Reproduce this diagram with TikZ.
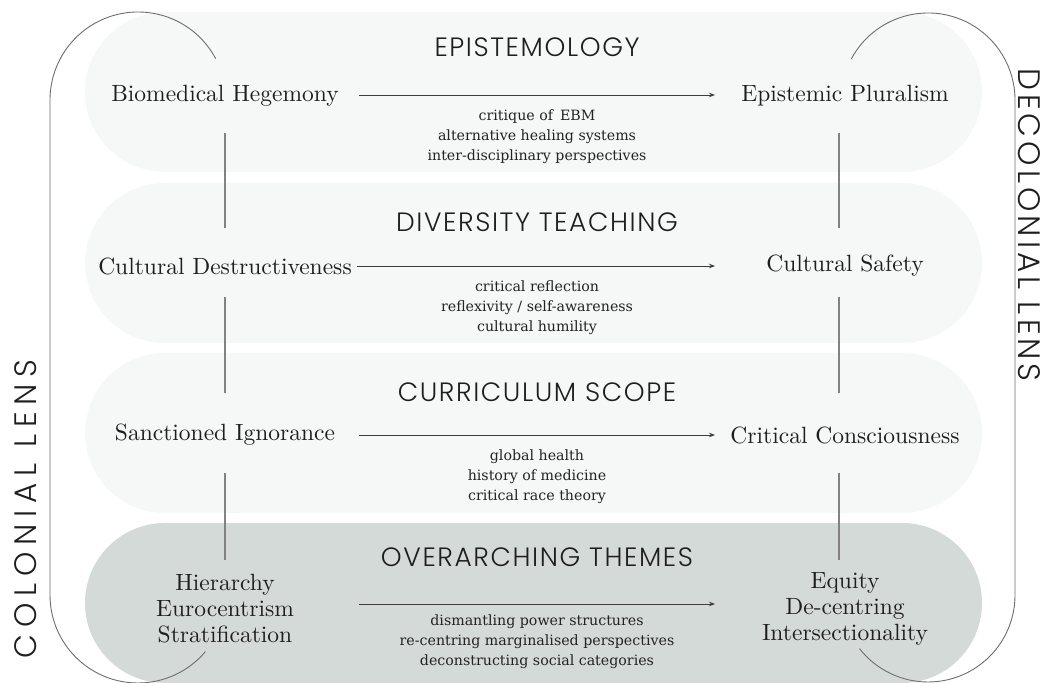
\documentclass[tikz,border=0pt]{standalone}
\usepackage{fontspec}
\setmainfont{Latin Modern Roman}
\newfontfamily\conceptfont{lmroman10-regular}[Extension=.otf]
\newfontfamily\titlefont{Poppins Light}[LetterSpace=6]
\newfontfamily\colfont{Poppins Light}[LetterSpace=22]
\newfontfamily\decolfont{Poppins Light}[LetterSpace=13]
\newfontfamily\notefont{DejaVu Serif}
\usetikzlibrary{arrows.meta}
\definecolor{bandlight}{RGB}{246,247,247}
\definecolor{banddark}{RGB}{212,218,215}
\definecolor{inkdark}{RGB}{30,30,30}
\definecolor{notegray}{RGB}{35,35,35}
\definecolor{arrowgray}{RGB}{60,60,60}
\definecolor{linkgray}{RGB}{130,130,130}
\definecolor{lensgray}{RGB}{110,110,110}
\begin{document}
\begin{tikzpicture}[x=1pt,y=1pt,
  concept/.style={font=\conceptfont\fontsize{23.5}{26}\selectfont, text=inkdark, align=center, inner sep=0pt},
  theme/.style={font=\titlefont\fontsize{26.5}{28}\selectfont, text=inkdark, inner sep=0pt},
  note/.style={font=\notefont\fontsize{14.2}{20}\selectfont, text=notegray, align=center, inner sep=0pt},
  flow/.style={draw=arrowgray, line width=0.9pt, -{Stealth[length=6pt,width=4.5pt]}},
  link/.style={draw=linkgray, line width=1.1pt},
  lens/.style={draw=lensgray, line width=0.9pt},
  lenslabel/.style={text=inkdark, inner sep=0pt}]
\useasboundingbox (0,0) rectangle (1051,682);
\fill[white] (0,0) rectangle (1051,682);

% four horizontal bands
\fill[bandlight, rounded corners=80pt] (85,510) rectangle (982,670);
\fill[bandlight, rounded corners=80pt] (85,339) rectangle (982,499);
\fill[bandlight, rounded corners=80pt] (85,169) rectangle (982,329);
\fill[banddark,  rounded corners=80pt] (85,-1)  rectangle (982,159);

% colonial and decolonial lens brackets
\draw[lens] (138,582) ++(28:88) arc[start angle=28, end angle=180, radius=88]
  -- (50,87) arc[start angle=180, end angle=320, radius=88];
\draw[lens] (928,582) ++(152:87) arc[start angle=152, end angle=0, radius=87]
  -- (1015,87) arc[start angle=0, end angle=-142, radius=87];
\node[lenslabel, font=\colfont\fontsize{31}{31}\selectfont, rotate=90] (cl) at (26,173) {COLONIAL LENS};
\node[lenslabel, font=\decolfont\fontsize{31}{31}\selectfont, rotate=-90] (dl) at (1029,457) {DECOLONIAL LENS};

% band titles
\node[theme] (t1) at (537,635) {EPISTEMOLOGY};
\node[theme] (t2) at (537,460) {DIVERSITY TEACHING};
\node[theme] (t3) at (537,290) {CURRICULUM SCOPE};
\node[theme] (t4) at (537,125) {OVERARCHING THEMES};

% colonial side
\node[concept] (bh) at (225,586) {Biomedical Hegemony};
\node[concept] (cd) at (225,416) {Cultural Destructiveness};
\node[concept] (si) at (225,247) {Sanctioned Ignorance};
\node[concept] (hi) at (225,73) {Hierarchy\\Eurocentrism\\Stratification};

% decolonial side
\node[concept] (ep) at (845,586) {Epistemic Pluralism};
\node[concept] (cs) at (845,416) {Cultural Safety};
\node[concept] (cc) at (845,247) {Critical Consciousness};
\node[concept] (eq) at (845,73) {Equity\\De-centring\\Intersectionality};

% transitions
\coordinate (f1s) at (359,587); \coordinate (f1e) at (715,587);
\coordinate (f2s) at (357,416); \coordinate (f2e) at (715,416);
\coordinate (f3s) at (359,247); \coordinate (f3e) at (715,247);
\coordinate (f4s) at (359,78);  \coordinate (f4e) at (715,78);
\draw[flow] (f1s) -- (f1e);
\draw[flow] (f2s) -- (f2e);
\draw[flow] (f3s) -- (f3e);
\draw[flow] (f4s) -- (f4e);

\node[note] (n1) at (537,545) {critique of\, EBM\\alternative healing systems\\inter-disciplinary perspectives};
\node[note] (n2) at (537,374) {critical reflection\\reflexivity / self-awareness\\cultural humility};
\node[note] (n3) at (537,205) {global health\\history of medicine\\critical race theory};
\node[note] (n4) at (537,40) {dismantling power structures\\re-centring marginalised perspectives\\deconstructing social categories};

% vertical links
\draw[link] ([yshift=-37]bh.center) -- ([yshift=38]cd.center);
\draw[link] ([yshift=-31]cd.center) -- ([yshift=42]si.center);
\draw[link] ([yshift=-38]si.center) -- ([yshift=49]hi.center);
\draw[link] ([xshift=-6,yshift=-37]ep.center) -- ([xshift=-6,yshift=38]cs.center);
\draw[link] ([xshift=-6,yshift=-31]cs.center) -- ([xshift=-6,yshift=42]cc.center);
\draw[link] ([xshift=-6,yshift=-38]cc.center) -- ([xshift=-6,yshift=49]eq.center);
\end{tikzpicture}
\end{document}
